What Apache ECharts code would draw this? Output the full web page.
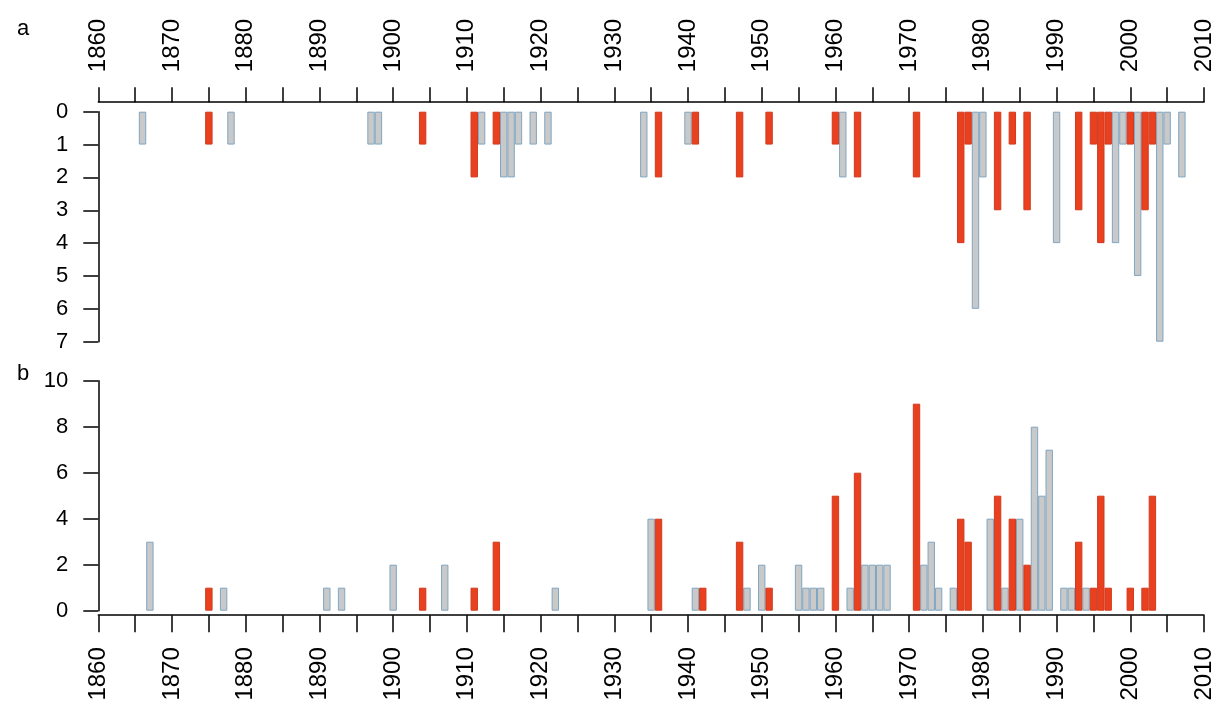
<!DOCTYPE html>
<html>
<head>
<meta charset="utf-8">
<script src="https://cdn.jsdelivr.net/npm/echarts@6/dist/echarts.min.js"></script>
<style>
  html, body { margin: 0; padding: 0; background: #fff; }
  #main { width: 1216px; height: 706px; }
</style>
</head>
<body>
<div id="main"></div>
<script>
// panel a (downward bars)
var aRedYears = [1875, 1904, 1911, 1914, 1936, 1941, 1947, 1951, 1960, 1963, 1971, 1977, 1978, 1982, 1984, 1986, 1993, 1995, 1996, 1997, 2000, 2002, 2003];
var aRedCounts = [1, 1, 2, 1, 2, 1, 2, 1, 1, 2, 2, 4, 1, 3, 1, 3, 3, 1, 4, 1, 1, 3, 1];
var aGrayYears = [1866, 1878, 1897, 1898, 1912, 1915, 1916, 1917, 1919, 1921, 1934, 1940, 1961, 1979, 1980, 1990, 1998, 1999, 2001, 2004, 2005, 2007];
var aGrayCounts = [1, 1, 1, 1, 1, 2, 2, 1, 1, 1, 2, 1, 2, 6, 2, 4, 4, 1, 5, 7, 1, 2];

// panel b (upward bars)
var bRedYears = [1875, 1904, 1911, 1914, 1936, 1942, 1947, 1951, 1960, 1963, 1971, 1977, 1978, 1982, 1984, 1986, 1993, 1995, 1996, 1997, 2000, 2002, 2003];
var bRedCounts = [1, 1, 1, 3, 4, 1, 3, 1, 5, 6, 9, 4, 3, 5, 4, 2, 3, 1, 5, 1, 1, 1, 5];
var bGrayYears = [1867, 1877, 1891, 1893, 1900, 1907, 1922, 1935, 1941, 1948, 1950, 1955, 1956, 1957, 1958, 1962, 1964, 1965, 1966, 1967, 1972, 1973, 1974, 1976, 1981, 1983, 1985, 1987, 1988, 1989, 1991, 1992, 1994];
var bGrayCounts = [3, 1, 1, 1, 2, 2, 1, 4, 1, 1, 2, 2, 1, 1, 1, 1, 2, 2, 2, 2, 2, 3, 1, 1, 4, 1, 4, 8, 5, 7, 1, 1, 1];

function pairs(years, counts) {
    return years.map(function (y, i) { return [y, counts[i]]; });
}

var font = 'Liberation Sans, Arial, sans-serif';
var red = '#e9401f';
var redEdge = '#d03a1e';
var gray = '#c9c9c9';
var grayEdge = '#7fa6c2';
var barW = 7.4;

var myChart = echarts.init(document.getElementById('main'));

function xAxisOf(idx, pos, off, tickLen, rot, gap) {
    return {
        type: 'value',
        gridIndex: idx,
        position: pos,
        offset: off,
        min: 1860,
        max: 2010,
        interval: 5,
        axisLine: { show: true, onZero: false, lineStyle: { color: '#000', width: 1.5 } },
        axisTick: { show: true, length: tickLen, lineStyle: { color: '#000', width: 1.5 } },
        splitLine: { show: false },
        axisLabel: {
            rotate: rot,
            margin: gap,
            fontSize: 24,
            fontFamily: font,
            color: '#000',
            formatter: function (v) { return v % 10 === 0 ? String(v) : ''; }
        }
    };
}

function yAxisOf(idx, max, step, inv) {
    return {
        type: 'value',
        gridIndex: idx,
        min: 0,
        max: max,
        interval: step,
        inverse: inv,
        axisLine: { show: true, lineStyle: { color: '#000', width: 1.5 } },
        axisTick: { show: true, length: 15, lineStyle: { color: '#000', width: 1.5 } },
        splitLine: { show: false },
        axisLabel: { margin: 30, fontSize: 22, fontFamily: font, color: '#000' }
    };
}

function barSeries(xi, data, fill, edge) {
    return {
        type: 'bar',
        xAxisIndex: xi,
        yAxisIndex: xi,
        data: data,
        barWidth: barW,
        barGap: '-100%',
        itemStyle: { color: fill, borderColor: edge, borderWidth: 1 },
        animation: false
    };
}

var option = {
    backgroundColor: '#fff',
    title: [
        { text: 'a', left: 12, top: 13, textStyle: { fontSize: 22, fontWeight: 'normal', fontFamily: font, color: '#000' } },
        { text: 'b', left: 12, top: 358, textStyle: { fontSize: 22, fontWeight: 'normal', fontFamily: font, color: '#000' } }
    ],
    grid: [
        { left: 98.3, right: 10, top: 111.7, height: 230 },
        { left: 98.3, right: 10, top: 380.7, height: 230 }
    ],
    xAxis: [
        xAxisOf(0, 'top', 9.5, 15, -90, 30),
        xAxisOf(1, 'bottom', 4.5, 17, 90, 32)
    ],
    yAxis: [
        yAxisOf(0, 7, 1, true),
        yAxisOf(1, 10, 2, false)
    ],
    series: [
        barSeries(0, pairs(aGrayYears, aGrayCounts), gray, grayEdge),
        barSeries(0, pairs(aRedYears, aRedCounts), red, redEdge),
        barSeries(1, pairs(bGrayYears, bGrayCounts), gray, grayEdge),
        barSeries(1, pairs(bRedYears, bRedCounts), red, redEdge)
    ]
};
myChart.setOption(option);
</script>
</body>
</html>
